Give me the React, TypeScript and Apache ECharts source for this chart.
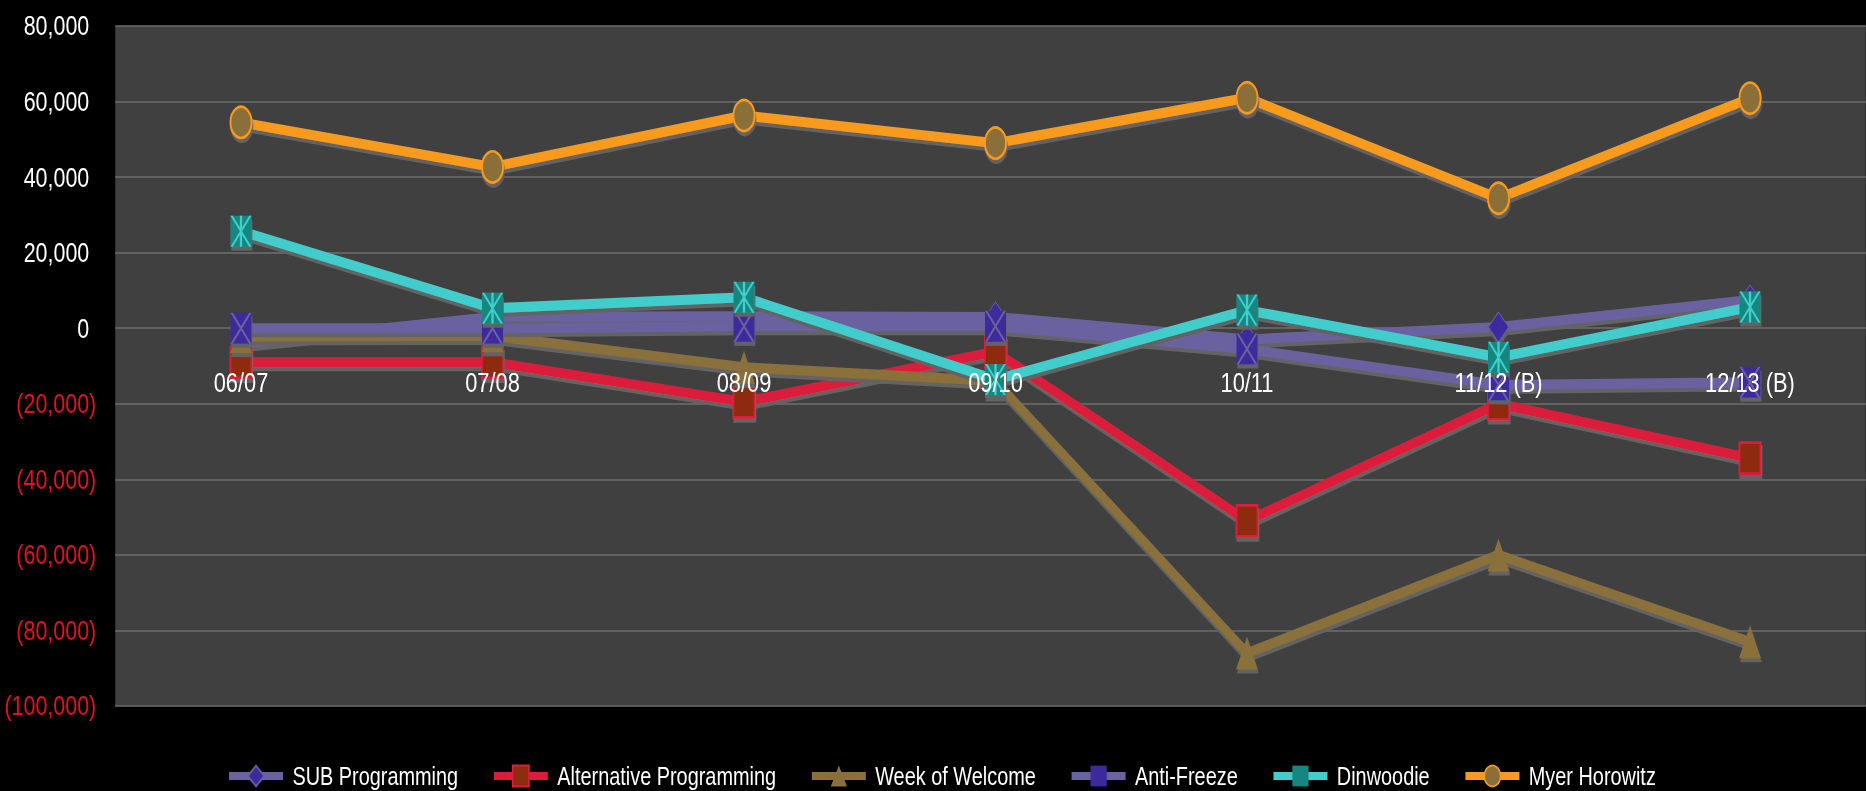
import React, { useEffect, useRef } from "react";
import * as echarts from "echarts";

const categories = ["06/07", "07/08", "08/09", "09/10", "10/11", "11/12 (B)", "12/13 (B)"];
const subProgramming = [-4000, 3000, 3200, 3000, -3000, 300, 7500];
const alternativeProgramming = [-9000, -9000, -19500, -6200, -51000, -20000, -34400];
const weekOfWelcome = [-2200, -2000, -10300, -14000, -86000, -60000, -83000];
const antiFreeze = [0, 0, 500, 500, -5500, -15000, -14300];
const dinwoodie = [25700, 5300, 8200, -13600, 4800, -7700, 5600];
const myerHorowitz = [54500, 42700, 56300, 49000, 61000, 34400, 60900];
const yMin = -100000;
const yMax = 80000;
const yStep = 20000;

const SX = 0.78; // horizontal squash of the whole picture
const W = 1866 / SX;
const H = 791;
const PLOT_TOP = 26;
const PLOT_BOTTOM = 706;
const FONT = "'Liberation Sans', Arial, sans-serif";
const X_PATH = "path://M0,0 L3,0 L27,30 L24,30 Z M24,0 L27,0 L3,30 L0,30 Z";
const STAR_PATH = "path://M0,0 L3,0 L27,30 L24,30 Z M24,0 L27,0 L3,30 L0,30 Z M12,0 L15,0 L15,30 L12,30 Z";

function fmt(v: number): string {
  const s = Math.abs(v).toLocaleString("en-US");
  if (v < 0) return "{neg|(" + s + ")}";
  return "{pos|" + s + "}";
}

export default function App() {
  const ref = useRef<HTMLDivElement>(null);
  useEffect(() => {
    if (!ref.current) return;
    const chart = echarts.init(ref.current, undefined, { renderer: "svg" });
    const shadow = { shadowColor: "rgba(100,100,100,1)", shadowBlur: 1, shadowOffsetX: 1, shadowOffsetY: 4 };
    const lineSeries = (name: string, data: number[], z: number, lineColor: string, symbol: string, size: number[], fill: string, border: string, bw: number) => ({
      name,
      type: "line",
      data,
      z,
      symbol,
      symbolSize: size,
      showSymbol: true,
      lineStyle: { color: lineColor, width: 10, ...shadow },
      itemStyle: { color: fill, borderColor: border, borderWidth: bw, ...shadow },
      emphasis: { disabled: true },
    });
    const overlay = (name: string, data: number[], z: number, path: string, color: string) => ({
      name,
      type: "scatter",
      data,
      z,
      symbol: path,
      symbolSize: [27, 31],
      itemStyle: { color, opacity: 1 },
      emphasis: { disabled: true },
      silent: true,
    });
    // pixel position of zero on the value axis, used only to lift the category axis labels
    const zeroY = PLOT_TOP + ((yMax - 0) / (yMax - yMin)) * (PLOT_BOTTOM - PLOT_TOP);
    chart.setOption({
      animation: false,
      backgroundColor: "#000000",
      grid: {
        left: 115.25 / SX,
        width: 1760.5 / SX,
        top: PLOT_TOP,
        height: PLOT_BOTTOM - PLOT_TOP,
        outerBoundsMode: "none",
        containLabel: false,
        show: true,
        backgroundColor: "#404040",
        borderWidth: 0,
      },
      legend: {
        data: ["SUB Programming", "Alternative Programming", "Week of Welcome", "Anti-Freeze", "Dinwoodie", "Myer Horowitz"],
        left: 222 / SX,
        top: 758,
        itemWidth: 54 / SX,
        itemHeight: 26,
        itemGap: 32.6 / SX,
        lineStyle: { width: 8 },
        textStyle: { color: "#ffffff", fontSize: 25.5, fontFamily: FONT, padding: [0, 0, 0, 7] },
      },
      xAxis: {
        type: "category",
        data: categories,
        boundaryGap: true,
        z: 20,
        position: "bottom",
        offset: -(PLOT_BOTTOM - zeroY),
        axisLine: { show: false, onZero: false },
        axisTick: { show: false },
        axisLabel: { color: "#ffffff", fontSize: 28, fontFamily: FONT, margin: 40 },
        splitLine: { show: false },
      },
      yAxis: {
        type: "value",
        min: yMin,
        max: yMax,
        interval: yStep,
        axisLine: { show: false },
        axisTick: { show: false },
        axisLabel: {
          fontSize: 27.5,
          fontFamily: FONT,
          margin: 19 / SX,
          formatter: (v: number) => fmt(v),
          rich: {
            pos: { color: "#ffffff", fontSize: 27.5, fontFamily: FONT, padding: [0, 9, 0, 0] },
            neg: { color: "#E5101F", fontSize: 27.5, fontFamily: FONT },
          },
        },
        splitLine: { lineStyle: { color: "#6e6e6e", width: 1.5 } },
      },
      series: [
        lineSeries("SUB Programming", subProgramming, 2, "#6A62A0", "diamond", [26, 30], "#3C2A9C", "#6A62A0", 1),
        lineSeries("Alternative Programming", alternativeProgramming, 3, "#DC1C3A", "rect", [27, 31], "#8E2C0E", "#DC1C3A", 2.5),
        lineSeries("Week of Welcome", weekOfWelcome, 4, "#8A6F3A", "triangle", [28, 33], "#8A6F3A", "#8A6F3A", 0),
        lineSeries("Anti-Freeze", antiFreeze, 5, "#6A62A0", "rect", [27, 31], "#3C2A9C", "#3C2A9C", 0),
        overlay("Anti-Freeze X", antiFreeze, 6, X_PATH, "#6A62A0"),
        lineSeries("Dinwoodie", dinwoodie, 7, "#41CDCB", "rect", [27, 31], "#168680", "#168680", 0),
        overlay("Dinwoodie X", dinwoodie, 8, STAR_PATH, "#41CDCB"),
        lineSeries("Myer Horowitz", myerHorowitz, 9, "#F89A1F", "circle", [27, 31], "#8A7038", "#F89A1F", 2.5),
      ],
    });
    return () => chart.dispose();
  }, []);
  return (
    <div
      style={{ position: "fixed", left: 0, top: 0, width: 1866, height: H, background: "#000", overflow: "hidden" }}
    >
      <div
        ref={ref}
        style={{ width: W, height: H, transform: `scaleX(${SX})`, transformOrigin: "0 0" }}
      />
    </div>
  );
}
